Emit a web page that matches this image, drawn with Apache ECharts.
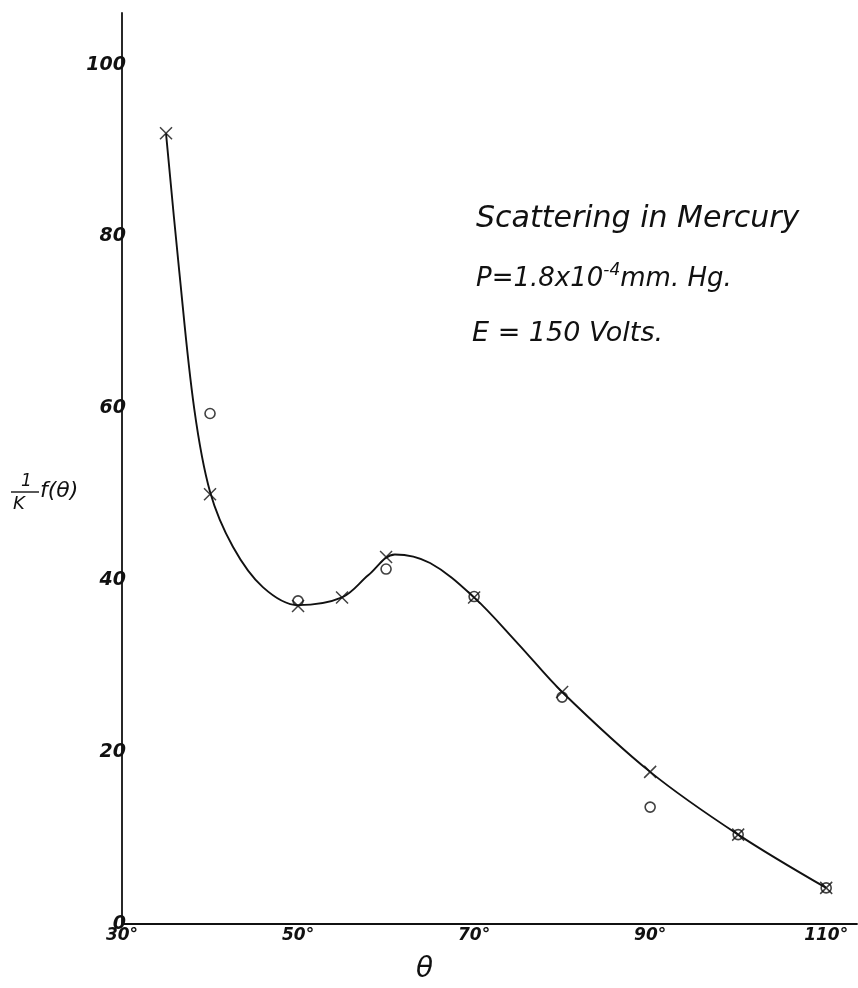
<!DOCTYPE html>
<html>
<head>
<meta charset="utf-8">
<script src="https://cdn.jsdelivr.net/npm/echarts@6/dist/echarts.min.js"></script>
<style>
  html, body {margin: 0; padding: 0; background: #fff;}
  #chart {width: 858px; height: 988px;}
</style>
</head>
<body>
<div id="chart"></div>
<script>
// measured points, theta in degrees
const crossPoints = [
  [35, 92], [40, 50], [50, 37], [55, 38], [60, 42.7],
  [70, 38], [80, 27], [90, 17.7], [100, 10.4], [110, 4.2]
];
const circlePoints = [
  [40, 59.4], [50, 37.6], [60, 41.3], [70, 38.1],
  [80, 26.4], [90, 13.6], [100, 10.4], [110, 4.2]
];
// the hand-drawn curve, read along its length
const curvePoints = [
  [35, 92], [36.5, 76], [38.2, 60], [40, 50.3], [42.6, 43.9],
  [46, 39.2], [50, 37.1], [55, 38], [58, 40.6], [61, 43],
  [65, 42], [70, 38], [75, 32.6], [80, 27], [90, 17.7],
  [100, 10.4], [110, 4.2]
];
const xTicks = [30, 50, 70, 90, 110];
const yTicks = [0, 20, 40, 60, 80, 100];

const ink = '#111';
const font = 'DejaVu Sans';

const chart = echarts.init(document.getElementById('chart'));
chart.setOption({
  backgroundColor: '#fff',
  animation: false,
  grid: {left: 122, right: 1, top: 13, bottom: 64},
  xAxis: {
    type: 'value',
    min: 30,
    max: 113.5,
    interval: 20,
    axisLine: {lineStyle: {color: ink, width: 1.8}},
    axisTick: {show: false},
    splitLine: {show: false},
    axisLabel: {
      color: ink,
      fontFamily: font,
      fontStyle: 'italic',
      fontWeight: 'bold',
      fontSize: 17,
      margin: 3,
      showMaxLabel: false,
      formatter: v => xTicks.includes(v) ? v + '°' : ''
    }
  },
  yAxis: {
    type: 'value',
    min: 0,
    max: 106,
    interval: 20,
    axisLine: {show: true, lineStyle: {color: ink, width: 1.8}},
    axisTick: {show: false},
    splitLine: {show: false},
    axisLabel: {
      color: ink,
      fontFamily: font,
      fontStyle: 'italic',
      fontWeight: 'bold',
      fontSize: 19,
      margin: -4,
      showMaxLabel: false,
      formatter: v => yTicks.includes(v) ? String(v) : ''
    }
  },
  series: [
    {
      type: 'line',
      data: curvePoints,
      smooth: 0.35,
      symbol: 'none',
      lineStyle: {color: ink, width: 1.9}
    },
    {
      type: 'scatter',
      data: crossPoints,
      symbol: 'path://M0,0L10,10M10,0L0,10',
      symbolSize: 12,
      itemStyle: {color: 'transparent', borderColor: ink, borderWidth: 1.5}
    },
    {
      type: 'scatter',
      data: circlePoints,
      symbol: 'circle',
      symbolSize: 10,
      itemStyle: {color: 'transparent', borderColor: ink, borderWidth: 1.6}
    }
  ],
  graphic: [
    {
      type: 'text', left: 476, top: 204,
      style: {text: 'Scattering in Mercury', font: 'italic 30px "DejaVu Sans"', fill: ink}
    },
    {
      type: 'text', left: 476, top: 262,
      style: {
        text: 'P=1.8x10{sup|-4}mm. Hg.',
        font: 'italic 26px "DejaVu Sans"', fill: ink,
        rich: {sup: {font: 'italic 17px "DejaVu Sans"', fill: ink, verticalAlign: 'top', padding: [0, 0, 18, 0]}}
      }
    },
    {
      type: 'text', left: 472, top: 320,
      style: {text: 'E = 150 Volts.', font: 'italic 27px "DejaVu Sans"', fill: ink}
    },
    {
      type: 'text', left: 21, top: 473,
      style: {text: '1', font: 'italic 17px "DejaVu Sans"', fill: ink}
    },
    {
      type: 'line', shape: {x1: 11, y1: 492, x2: 39, y2: 492},
      style: {stroke: ink, lineWidth: 1.4}
    },
    {
      type: 'text', left: 13, top: 495,
      style: {text: 'K', font: 'italic 18px "DejaVu Sans"', fill: ink}
    },
    {
      type: 'text', left: 40, top: 480,
      style: {text: 'f(θ)', font: 'italic 22px "DejaVu Sans"', fill: ink}
    },
    {
      type: 'text', left: 416, top: 956,
      style: {text: 'θ', font: 'italic 28px "DejaVu Sans"', fill: ink}
    }
  ]
});
</script>
</body>
</html>
